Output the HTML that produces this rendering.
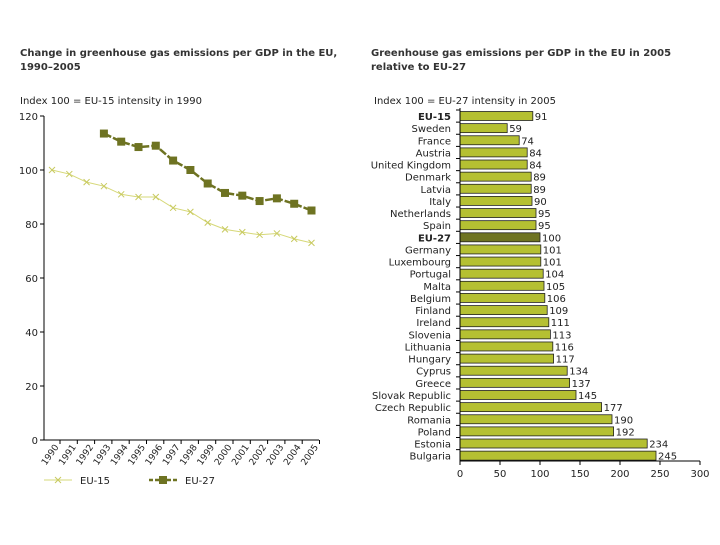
<!DOCTYPE html>
<html><head><meta charset="utf-8"><style>
body{margin:0;background:#fff;}
svg text{font-family:"DejaVu Sans","Liberation Sans",sans-serif;}
</style></head><body>
<svg id="c" width="720" height="540" viewBox="0 0 720 540" xmlns="http://www.w3.org/2000/svg">
<text x="20" y="56" font-size="10" font-weight="bold" fill="#333">Change in greenhouse gas emissions per GDP in the EU,</text>
<text x="20" y="70" font-size="10" font-weight="bold" fill="#333">1990–2005</text>
<text x="20" y="104" font-size="10" fill="#222">Index 100 = EU-15 intensity in 1990</text>
<text x="371" y="56" font-size="10" font-weight="bold" fill="#333">Greenhouse gas emissions per GDP in the EU in 2005</text>
<text x="371" y="70" font-size="10" font-weight="bold" fill="#333">relative to EU-27</text>
<text x="374" y="104" font-size="10" fill="#222">Index 100 = EU-27 intensity in 2005</text>
<g id="left"></g><g id="right"></g>
</svg>
<script>
const years=["1990","1991","1992","1993","1994","1995","1996","1997","1998","1999","2000","2001","2002","2003","2004","2005"];
const eu15=[100,98.5,95.5,94,91,90,90,86,84.5,80.5,78,77,76,76.5,74.5,73];
const eu27=[null,null,null,113.5,110.5,108.5,109,103.5,100,95,91.5,90.5,88.5,89.5,87.5,85];
const yTicks=[0,20,40,60,80,100,120];
const countries=["EU-15","Sweden","France","Austria","United Kingdom","Denmark","Latvia","Italy","Netherlands","Spain","EU-27","Germany","Luxembourg","Portugal","Malta","Belgium","Finland","Ireland","Slovenia","Lithuania","Hungary","Cyprus","Greece","Slovak Republic","Czech Republic","Romania","Poland","Estonia","Bulgaria"];
const values=[91,59,74,84,84,89,89,90,95,95,100,101,101,104,105,106,109,111,113,116,117,134,137,145,177,190,192,234,245];
const xTicks=[0,50,100,150,200,250,300];

const NS="http://www.w3.org/2000/svg";
function mk(p,t,a,txt){const e=document.createElementNS(NS,t);for(const k in a)e.setAttribute(k,a[k]);if(txt!=null)e.textContent=txt;p.appendChild(e);return e;}
const L=document.getElementById('left'),R=document.getElementById('right');
const ly=v=>440-v*2.7, lx=i=>52+i*17.3;
let ax=mk(L,'path',{d:'M44,116V440H319',stroke:'#000',fill:'none'});


yTicks.forEach(t=>{
 mk(L,'line',{x1:40,x2:44,y1:ly(t),y2:ly(t),stroke:'#000'});
 const tx=mk(L,'text',{x:38,y:ly(t)+4,'font-size':10,'text-anchor':'end',fill:'#222'},t);
 
 
});
years.forEach((y,i)=>{
 mk(L,'line',{x1:lx(i)+8,x2:lx(i)+8,y1:440,y2:444,stroke:'#000'});
 const tx=mk(L,'text',{transform:`translate(${lx(i)+7},447) rotate(-55)`,'font-size':9,'text-anchor':'end',fill:'#222'},y);
 
 
});
let p15=eu15.map((v,i)=>lx(i)+','+ly(v)).join(' ');
const l15=mk(L,'polyline',{points:p15,fill:'none',stroke:'#d6d878','stroke-width':1});


eu15.forEach((v,i)=>{const x=lx(i),y=ly(v);const m=mk(L,'path',{d:`M${x-3},${y-3}L${x+3},${y+3}M${x-3},${y+3}L${x+3},${y-3}`,stroke:'#c8ca60'});
 
 });
let p27=eu27.map((v,i)=>v==null?null:lx(i)+','+ly(v)).filter(Boolean).join(' ');
const l27=mk(L,'polyline',{points:p27,fill:'none',stroke:'#6e7322','stroke-width':2.5,'stroke-dasharray':'8 2'});


eu27.forEach((v,i)=>{if(v==null)return;const m=mk(L,'rect',{x:lx(i)-4,y:ly(v)-4,width:8,height:8,fill:'#6e7322'});
 
 });
mk(L,'line',{x1:44,x2:72,y1:480,y2:480,stroke:'#d6d878'});
mk(L,'path',{d:'M55,477L61,483M55,483L61,477',stroke:'#c8ca60'});
let lt=mk(L,'text',{x:80,y:484,'font-size':10,fill:'#222'},'EU-15');


mk(L,'line',{x1:149,x2:177,y1:480,y2:480,stroke:'#6e7322','stroke-width':2.5,'stroke-dasharray':'4 2'});
mk(L,'rect',{x:159,y:476,width:8,height:8,fill:'#6e7322'});
lt=mk(L,'text',{x:185,y:484,'font-size':10,fill:'#222'},'EU-27');


const rx=v=>460+v*0.8, ry=i=>111.5+i*12.13;
countries.forEach((c,i)=>{
 const y=ry(i);
 const b=mk(R,'rect',{x:460,y:y,width:rx(values[i])-460,height:9,fill:c==='EU-27'?'#6e7322':'#b5c032',stroke:'#222','stroke-width':0.8});
 
 
 const bold=c.startsWith('EU-');
 const t=mk(R,'text',{x:451,y:y+8.5,'font-size':10,'text-anchor':'end',fill:'#222','font-weight':bold?'bold':'normal'},c);
 
 
 const v=mk(R,'text',{x:rx(values[i])+2,y:y+8.5,'font-size':10,fill:'#222'},values[i]);
 
 
});
ax=mk(R,'path',{d:'M460,108V461H700',stroke:'#000',fill:'none'});


countries.forEach((c,i)=>mk(R,'line',{x1:456,x2:460,y1:ry(i)-1.5,y2:ry(i)-1.5,stroke:'#000'}));
xTicks.forEach(t=>{
 mk(R,'line',{x1:rx(t),x2:rx(t),y1:461,y2:465,stroke:'#000'});
 const tx=mk(R,'text',{x:rx(t),y:477,'font-size':10,'text-anchor':'middle',fill:'#222'},t);
 
 
});
</script>
</body></html>
